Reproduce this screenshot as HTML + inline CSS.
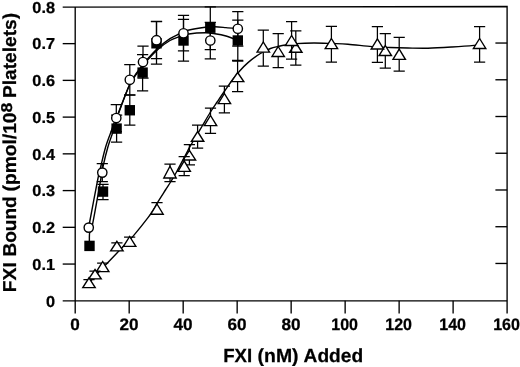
<!DOCTYPE html>
<html><head><meta charset="utf-8"><title>FXI binding</title>
<style>html,body{margin:0;padding:0;background:#fff}body{width:520px;height:367px;overflow:hidden}</style></head>
<body>
<svg width="520" height="367" viewBox="0 0 520 367" style="display:block">
<rect width="520" height="367" fill="#fff"/>
<g fill="none" stroke="#000" stroke-width="1.35" stroke-linecap="butt">
<path d="M62.7 7.2 L507.1 6.5 V313.6"/>
<path d="M62.7 300.8 H507.1"/>
<path d="M75.2 6.9 V313.6"/>
<path d="M62.7 264.06 H75.2"/>
<path d="M495.4 263.46 H507.1"/>
<path d="M62.7 227.32 H75.2"/>
<path d="M495.4 226.72 H507.1"/>
<path d="M62.7 190.59 H75.2"/>
<path d="M495.4 189.99 H507.1"/>
<path d="M62.7 153.85 H75.2"/>
<path d="M495.4 153.25 H507.1"/>
<path d="M62.7 117.11 H75.2"/>
<path d="M495.4 116.51 H507.1"/>
<path d="M62.7 80.38 H75.2"/>
<path d="M495.4 79.78 H507.1"/>
<path d="M62.7 43.64 H75.2"/>
<path d="M495.4 43.04 H507.1"/>
<path d="M129.19 300.8 V313.6"/>
<path d="M183.18 300.8 V313.6"/>
<path d="M237.16 300.8 V313.6"/>
<path d="M291.15 300.8 V313.6"/>
<path d="M345.14 300.8 V313.6"/>
<path d="M399.13 300.8 V313.6"/>
<path d="M453.11 300.8 V313.6"/>
<path d="M88.75 227.60 C88.88 226.83 88.00 231.02 89.50 223.00 C91.00 214.98 95.83 189.08 97.75 179.50 C99.67 169.92 99.71 170.83 101.00 165.50 C102.29 160.17 103.88 153.00 105.50 147.50 C107.12 142.00 109.25 136.75 110.75 132.50 C112.25 128.25 113.25 125.21 114.50 122.00 C115.75 118.79 115.75 119.46 118.25 113.25 C120.75 107.04 126.38 91.54 129.50 84.75 C132.62 77.96 134.00 76.79 137.00 72.50 C140.00 68.21 144.00 63.08 147.50 59.00 C151.00 54.92 154.25 51.38 158.00 48.00 C161.75 44.62 166.50 41.03 170.00 38.70 C173.50 36.37 176.00 35.41 179.00 34.00 C182.00 32.59 183.62 31.38 188.00 30.25 C192.38 29.12 200.80 27.82 205.30 27.25 C209.80 26.68 211.55 26.74 215.00 26.80 C218.45 26.86 222.20 27.28 226.00 27.60 C229.80 27.93 235.83 28.56 237.80 28.75" stroke-width="1.4"/>
<path d="M89.50 245.90 C89.52 243.75 89.10 236.57 89.60 233.00 C90.10 229.43 90.64 233.42 92.50 224.50 C94.36 215.58 98.96 189.33 100.75 179.50 C102.54 169.67 102.08 170.83 103.25 165.50 C104.42 160.17 106.25 152.75 107.75 147.50 C109.25 142.25 110.94 138.00 112.25 134.00 C113.56 130.00 114.56 126.90 115.60 123.50 C116.64 120.10 116.17 120.02 118.50 113.60 C120.83 107.18 126.47 91.78 129.60 85.00 C132.73 78.22 134.23 77.13 137.30 72.90 C140.37 68.67 144.43 63.62 148.00 59.60 C151.57 55.58 155.03 51.98 158.70 48.80 C162.37 45.62 166.45 42.55 170.00 40.50 C173.55 38.45 176.88 37.58 180.00 36.50 C183.12 35.42 184.53 34.62 188.75 34.00 C192.97 33.38 200.93 32.85 205.30 32.80 C209.68 32.75 211.55 33.17 215.00 33.70 C218.45 34.23 222.20 34.87 226.00 36.00 C229.80 37.13 235.83 39.75 237.80 40.50" stroke-width="1.4"/>
<path d="M89.00 283.00 C90.08 281.75 93.17 278.08 95.50 275.50 C97.83 272.92 101.25 269.33 103.00 267.50 C104.75 265.67 103.67 266.92 106.00 264.50 C108.33 262.08 114.25 255.88 117.00 253.00 C119.75 250.12 119.60 250.32 122.50 247.25 C125.40 244.18 130.15 239.53 134.40 234.60 C138.65 229.67 144.80 221.92 148.00 217.70 C151.20 213.48 152.02 211.83 153.60 209.30 C155.18 206.77 155.50 205.76 157.50 202.50 C159.50 199.24 163.37 193.25 165.60 189.75 C167.83 186.25 169.08 184.46 170.90 181.50 C172.72 178.54 174.15 176.25 176.50 172.00 C178.85 167.75 182.83 160.12 185.00 156.00 C187.17 151.88 188.42 149.30 189.50 147.30 C190.58 145.30 190.21 146.13 191.50 144.00 C192.79 141.87 195.42 137.58 197.25 134.50 C199.08 131.42 200.38 129.12 202.50 125.50 C204.62 121.88 207.50 116.75 210.00 112.75 C212.50 108.75 214.95 105.29 217.50 101.50 C220.05 97.71 222.88 93.50 225.30 90.00 C227.72 86.50 229.63 83.63 232.00 80.50 C234.37 77.37 236.83 74.18 239.50 71.20 C242.17 68.22 244.58 65.51 248.00 62.60 C251.42 59.69 256.25 56.10 260.00 53.75 C263.75 51.40 267.50 49.71 270.50 48.50 C273.50 47.29 275.25 47.12 278.00 46.50 C280.75 45.88 284.00 45.28 287.00 44.80 C290.00 44.32 291.50 43.90 296.00 43.60 C300.50 43.30 308.00 43.02 314.00 43.00 C320.00 42.98 326.33 43.30 332.00 43.50 C337.67 43.70 341.33 43.68 348.00 44.20 C354.67 44.72 365.00 46.05 372.00 46.60 C379.00 47.15 384.00 47.27 390.00 47.50 C396.00 47.73 401.67 47.88 408.00 48.00 C414.33 48.12 420.67 48.37 428.00 48.20 C435.33 48.03 444.33 47.47 452.00 47.00 C459.67 46.53 469.40 45.82 474.00 45.40 C478.60 44.98 478.67 44.65 479.60 44.50" stroke-width="1.4"/>
</g>
<g stroke="#000" stroke-width="1.4">
<path d="M237.80 20.20 V61.00 M232.20 20.20 H243.40 M232.20 61.00 H243.40" fill="none" stroke-width="1.25"/>
<rect x="232.60" y="35.30" width="10.4" height="10.4" fill="#000" stroke="none"/>
<path d="M210.30 6.90 V49.50 M204.70 6.90 H215.90 M204.70 49.50 H215.90" fill="none" stroke-width="1.25"/>
<rect x="205.10" y="22.50" width="10.4" height="10.4" fill="#000" stroke="none"/>
<path d="M183.50 19.30 V61.00 M177.90 19.30 H189.10 M177.90 61.00 H189.10" fill="none" stroke-width="1.25"/>
<rect x="178.30" y="35.30" width="10.4" height="10.4" fill="#000" stroke="none"/>
<path d="M156.50 21.60 V64.00 M150.90 21.60 H162.10 M150.90 64.00 H162.10" fill="none" stroke-width="1.25"/>
<rect x="151.30" y="38.10" width="10.4" height="10.4" fill="#000" stroke="none"/>
<path d="M142.60 54.60 V90.80 M137.00 54.60 H148.20 M137.00 90.80 H148.20" fill="none" stroke-width="1.25"/>
<rect x="137.40" y="67.40" width="10.4" height="10.4" fill="#000" stroke="none"/>
<path d="M129.80 95.20 V125.20 M124.20 95.20 H135.40 M124.20 125.20 H135.40" fill="none" stroke-width="1.25"/>
<rect x="124.60" y="105.05" width="10.4" height="10.4" fill="#000" stroke="none"/>
<path d="M116.60 115.00 V142.00 M111.00 115.00 H122.20 M111.00 142.00 H122.20" fill="none" stroke-width="1.25"/>
<rect x="111.40" y="123.40" width="10.4" height="10.4" fill="#000" stroke="none"/>
<path d="M103.00 184.40 V199.60 M97.40 184.40 H108.60 M97.40 199.60 H108.60" fill="none" stroke-width="1.25"/>
<rect x="97.80" y="186.40" width="10.4" height="10.4" fill="#000" stroke="none"/>
<rect x="84.30" y="240.70" width="10.4" height="10.4" fill="#000" stroke="none"/>
<path d="M237.80 11.50 V46.00 M232.20 11.50 H243.40 M232.20 46.00 H243.40" fill="none" stroke-width="1.25"/>
<circle cx="237.80" cy="28.75" r="4.65" fill="#fff"/>
<path d="M210.30 22.25 V58.75 M204.70 22.25 H215.90 M204.70 58.75 H215.90" fill="none" stroke-width="1.25"/>
<circle cx="210.30" cy="40.50" r="4.65" fill="#fff"/>
<path d="M183.50 15.25 V50.80 M177.90 15.25 H189.10 M177.90 50.80 H189.10" fill="none" stroke-width="1.25"/>
<circle cx="183.50" cy="33.25" r="4.65" fill="#fff"/>
<path d="M156.50 21.40 V58.60 M150.90 21.40 H162.10 M150.90 58.60 H162.10" fill="none" stroke-width="1.25"/>
<circle cx="156.50" cy="40.20" r="4.65" fill="#fff"/>
<path d="M143.00 46.00 V78.00 M137.40 46.00 H148.60 M137.40 78.00 H148.60" fill="none" stroke-width="1.25"/>
<circle cx="143.00" cy="62.00" r="4.65" fill="#fff"/>
<path d="M129.80 64.60 V94.80 M124.20 64.60 H135.40 M124.20 94.80 H135.40" fill="none" stroke-width="1.25"/>
<circle cx="129.80" cy="79.80" r="4.65" fill="#fff"/>
<path d="M116.30 104.60 V131.50 M110.70 104.60 H121.90 M110.70 131.50 H121.90" fill="none" stroke-width="1.25"/>
<circle cx="116.30" cy="118.00" r="4.65" fill="#fff"/>
<path d="M102.30 163.70 V181.60 M96.70 163.70 H107.90 M96.70 181.60 H107.90" fill="none" stroke-width="1.25"/>
<circle cx="102.30" cy="172.60" r="4.65" fill="#fff"/>
<circle cx="88.75" cy="227.60" r="4.65" fill="#fff"/>
<path d="M479.60 26.60 V62.00 M474.00 26.60 H485.20 M474.00 62.00 H485.20" fill="none" stroke-width="1.25"/>
<path d="M479.60 38.50 L485.80 48.45 L473.40 48.45 Z" fill="#fff" stroke-linejoin="miter"/>
<path d="M399.20 37.30 V71.00 M393.60 37.30 H404.80 M393.60 71.00 H404.80" fill="none" stroke-width="1.25"/>
<path d="M399.20 49.20 L405.40 59.35 L393.00 59.35 Z" fill="#fff" stroke-linejoin="miter"/>
<path d="M385.30 33.70 V68.00 M379.70 33.70 H390.90 M379.70 68.00 H390.90" fill="none" stroke-width="1.25"/>
<path d="M385.30 45.50 L391.50 55.55 L379.10 55.55 Z" fill="#fff" stroke-linejoin="miter"/>
<path d="M377.40 26.60 V62.40 M371.80 26.60 H383.00 M371.80 62.40 H383.00" fill="none" stroke-width="1.25"/>
<path d="M377.40 38.80 L383.60 48.95 L371.20 48.95 Z" fill="#fff" stroke-linejoin="miter"/>
<path d="M331.40 26.40 V62.00 M325.80 26.40 H337.00 M325.80 62.00 H337.00" fill="none" stroke-width="1.25"/>
<path d="M331.40 38.50 L337.60 48.65 L325.20 48.65 Z" fill="#fff" stroke-linejoin="miter"/>
<path d="M295.80 30.80 V65.00 M290.20 30.80 H301.40 M290.20 65.00 H301.40" fill="none" stroke-width="1.25"/>
<path d="M295.80 42.50 L302.00 52.25 L289.60 52.25 Z" fill="#fff" stroke-linejoin="miter"/>
<path d="M291.60 21.50 V59.00 M286.00 21.50 H297.20 M286.00 59.00 H297.20" fill="none" stroke-width="1.25"/>
<path d="M291.60 35.50 L297.80 45.45 L285.40 45.45 Z" fill="#fff" stroke-linejoin="miter"/>
<path d="M278.20 33.70 V67.60 M272.60 33.70 H283.80 M272.60 67.60 H283.80" fill="none" stroke-width="1.25"/>
<path d="M278.20 46.50 L284.40 56.45 L272.00 56.45 Z" fill="#fff" stroke-linejoin="miter"/>
<path d="M263.30 30.00 V66.00 M257.70 30.00 H268.90 M257.70 66.00 H268.90" fill="none" stroke-width="1.25"/>
<path d="M263.30 42.00 L269.50 52.15 L257.10 52.15 Z" fill="#fff" stroke-linejoin="miter"/>
<path d="M237.60 60.40 V91.60 M232.00 60.40 H243.20 M232.00 91.60 H243.20" fill="none" stroke-width="1.25"/>
<path d="M237.60 72.50 L243.80 81.65 L231.40 81.65 Z" fill="#fff" stroke-linejoin="miter"/>
<path d="M224.40 86.00 V112.80 M218.80 86.00 H230.00 M218.80 112.80 H230.00" fill="none" stroke-width="1.25"/>
<path d="M224.40 93.50 L230.60 103.65 L218.20 103.65 Z" fill="#fff" stroke-linejoin="miter"/>
<path d="M210.50 108.00 V133.40 M204.90 108.00 H216.10 M204.90 133.40 H216.10" fill="none" stroke-width="1.25"/>
<path d="M210.50 115.50 L216.70 125.65 L204.30 125.65 Z" fill="#fff" stroke-linejoin="miter"/>
<path d="M197.60 125.00 V148.00 M192.00 125.00 H203.20 M192.00 148.00 H203.20" fill="none" stroke-width="1.25"/>
<path d="M197.60 131.50 L203.80 141.25 L191.40 141.25 Z" fill="#fff" stroke-linejoin="miter"/>
<path d="M189.40 144.60 V164.80 M183.80 144.60 H195.00 M183.80 164.80 H195.00" fill="none" stroke-width="1.25"/>
<path d="M189.40 150.30 L195.60 159.95 L183.20 159.95 Z" fill="#fff" stroke-linejoin="miter"/>
<path d="M184.20 156.60 V175.60 M178.60 156.60 H189.80 M178.60 175.60 H189.80" fill="none" stroke-width="1.25"/>
<path d="M184.20 160.80 L190.40 171.35 L178.00 171.35 Z" fill="#fff" stroke-linejoin="miter"/>
<path d="M170.00 164.00 V181.70 M164.40 164.00 H175.60 M164.40 181.70 H175.60" fill="none" stroke-width="1.25"/>
<path d="M170.00 166.20 L176.20 178.05 L163.80 178.05 Z" fill="#fff" stroke-linejoin="miter"/>
<path d="M157.00 202.60 V214.00 M151.40 202.60 H162.60 M151.40 214.00 H162.60" fill="none" stroke-width="1.25"/>
<path d="M157.00 204.00 L163.20 214.25 L150.80 214.25 Z" fill="#fff" stroke-linejoin="miter"/>
<path d="M129.65 237.20 V246.00 M124.05 237.20 H135.25 M124.05 246.00 H135.25" fill="none" stroke-width="1.25"/>
<path d="M129.65 236.50 L135.85 246.40 L123.45 246.40 Z" fill="#fff" stroke-linejoin="miter"/>
<path d="M116.90 242.75 V250.20 M111.30 242.75 H122.50 M111.30 250.20 H122.50" fill="none" stroke-width="1.25"/>
<path d="M116.90 241.40 L123.10 250.85 L110.70 250.85 Z" fill="#fff" stroke-linejoin="miter"/>
<path d="M102.70 263.00 V271.00 M97.10 263.00 H108.30 M97.10 271.00 H108.30" fill="none" stroke-width="1.25"/>
<path d="M102.70 261.50 L108.90 271.65 L96.50 271.65 Z" fill="#fff" stroke-linejoin="miter"/>
<path d="M95.00 271.00 V278.30 M89.40 271.00 H100.60 M89.40 278.30 H100.60" fill="none" stroke-width="1.25"/>
<path d="M95.00 269.50 L101.20 278.85 L88.80 278.85 Z" fill="#fff" stroke-linejoin="miter"/>
<path d="M89.00 279.60 V287.30 M83.40 279.60 H94.60 M83.40 287.30 H94.60" fill="none" stroke-width="1.25"/>
<path d="M89.00 277.90 L95.20 287.65 L82.80 287.65 Z" fill="#fff" stroke-linejoin="miter"/>
</g>
<g font-family="Liberation Sans, Arial, Helvetica, sans-serif" font-weight="bold" fill="#000" stroke="#000" stroke-width="0.25" text-rendering="geometricPrecision">
<text transform="translate(55.0,306.6) scale(1.020,0.990)" font-size="16.0" text-anchor="end">0</text>
<text transform="translate(55.0,269.8) scale(1.020,0.990)" font-size="16.0" text-anchor="end">0.1</text>
<text transform="translate(55.0,233.1) scale(1.020,0.990)" font-size="16.0" text-anchor="end">0.2</text>
<text transform="translate(55.0,196.3) scale(1.020,0.990)" font-size="16.0" text-anchor="end">0.3</text>
<text transform="translate(55.0,159.6) scale(1.020,0.990)" font-size="16.0" text-anchor="end">0.4</text>
<text transform="translate(55.0,122.9) scale(1.020,0.990)" font-size="16.0" text-anchor="end">0.5</text>
<text transform="translate(55.0,86.1) scale(1.020,0.990)" font-size="16.0" text-anchor="end">0.6</text>
<text transform="translate(55.0,49.4) scale(1.020,0.990)" font-size="16.0" text-anchor="end">0.7</text>
<text transform="translate(55.0,12.6) scale(1.020,0.990)" font-size="16.0" text-anchor="end">0.8</text>
<text transform="translate(75.0,329.5) scale(1.070,1.040)" font-size="16.0" text-anchor="middle">0</text>
<text transform="translate(128.9,329.5) scale(1.070,1.040)" font-size="16.0" text-anchor="middle">20</text>
<text transform="translate(182.9,329.5) scale(1.070,1.040)" font-size="16.0" text-anchor="middle">40</text>
<text transform="translate(236.9,329.5) scale(1.070,1.040)" font-size="16.0" text-anchor="middle">60</text>
<text transform="translate(290.9,329.5) scale(1.070,1.040)" font-size="16.0" text-anchor="middle">80</text>
<text transform="translate(344.6,329.5) scale(1.000,1.040)" font-size="16.0" text-anchor="middle">100</text>
<text transform="translate(398.6,329.5) scale(1.000,1.040)" font-size="16.0" text-anchor="middle">120</text>
<text transform="translate(452.6,329.5) scale(1.000,1.040)" font-size="16.0" text-anchor="middle">140</text>
<text transform="translate(506.5,329.5) scale(1.000,1.040)" font-size="16.0" text-anchor="middle">160</text>
<text transform="translate(0,361.6)" font-size="19.0"><tspan x="223.2" textLength="29.0" lengthAdjust="spacingAndGlyphs">FXI</tspan> <tspan x="257.6" textLength="41.0" lengthAdjust="spacingAndGlyphs">(nM)</tspan> <tspan x="303.6" textLength="59.5" lengthAdjust="spacingAndGlyphs">Added</tspan></text>
<text transform="translate(15.9,290) rotate(-90)" font-size="18.7"><tspan x="-2.2" y="0.0" textLength="30.0" lengthAdjust="spacingAndGlyphs">FXI</tspan> <tspan x="33.5" y="0.0" textLength="60.2" lengthAdjust="spacingAndGlyphs">Bound</tspan> <tspan x="98.5" y="0.0" textLength="79.0" lengthAdjust="spacingAndGlyphs">(pmol/10</tspan><tspan x="177.5" y="-4.2" font-size="15.6" textLength="9.8" lengthAdjust="spacingAndGlyphs">8</tspan> <tspan x="192.0" y="0.0" textLength="85.1" lengthAdjust="spacingAndGlyphs">Platelets)</tspan></text>
</g>
</svg>
</body></html>
